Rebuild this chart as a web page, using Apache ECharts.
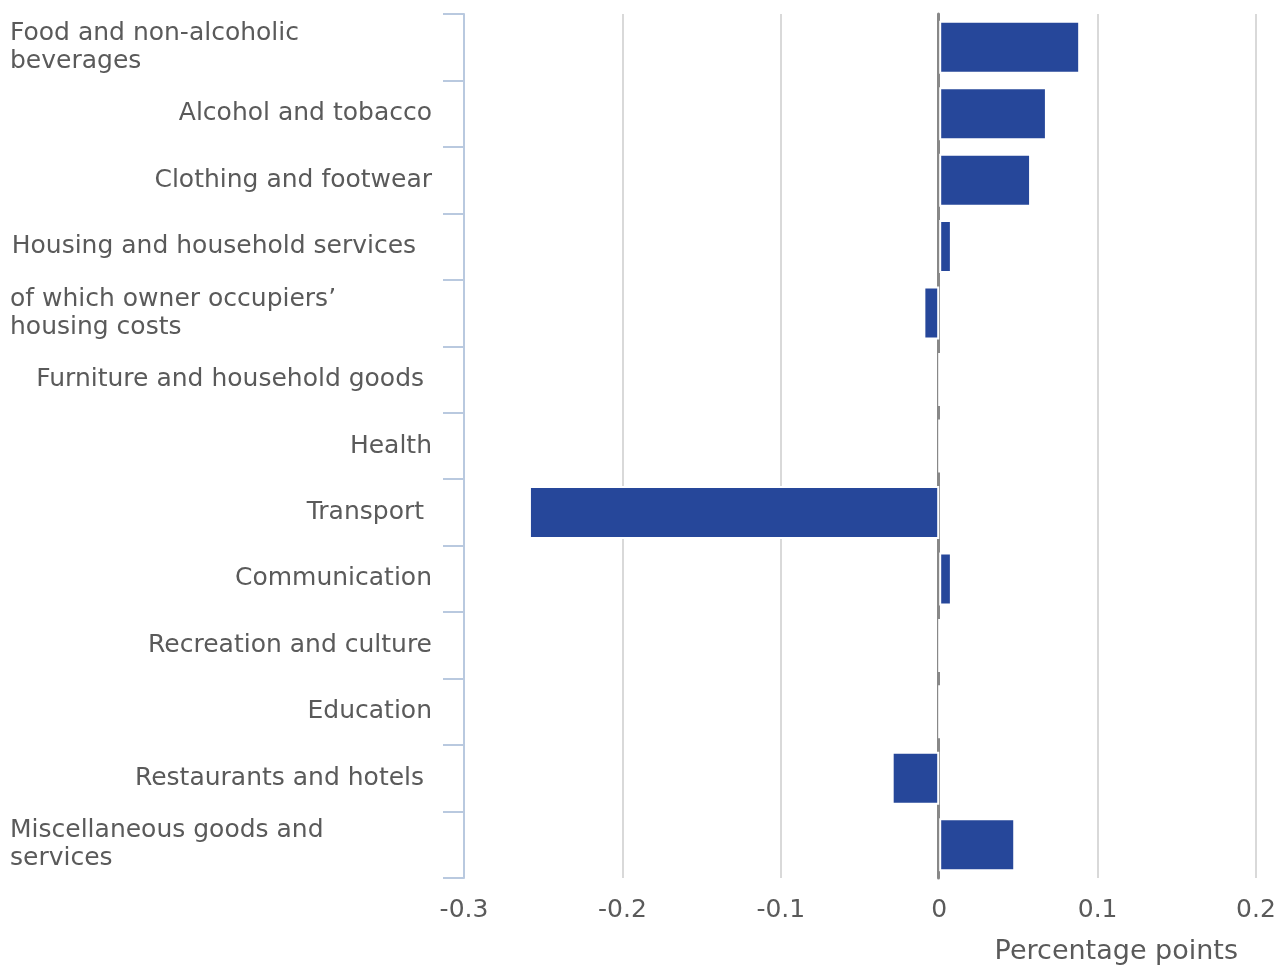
<!DOCTYPE html>
<html>
<head>
<meta charset="utf-8">
<script src="https://cdn.jsdelivr.net/npm/echarts@6/dist/echarts.min.js"></script>
<style>
html,body{margin:0;padding:0;background:#fff;}
#chart{width:1284px;height:966px;}
</style>
</head>
<body>
<div id="chart"></div>
<script>
const categories = [
  'Food and non-alcoholic beverages',
  'Alcohol and tobacco',
  'Clothing and footwear',
  'Housing and household services  ',
  'of which owner occupiers’ housing costs',
  'Furniture and household goods ',
  'Health',
  'Transport ',
  'Communication',
  'Recreation and culture',
  'Education',
  'Restaurants and hotels ',
  'Miscellaneous goods and services'
];
const wrapped = {
  'Food and non-alcoholic beverages': ['Food and non-alcoholic', 'beverages'],
  'of which owner occupiers’ housing costs': ['of which owner occupiers’', 'housing costs'],
  'Miscellaneous goods and services': ['Miscellaneous goods and', 'services']
};
const values = [0.089, 0.068, 0.058, 0.008, -0.01, 0, 0, -0.259, 0.008, 0, 0, -0.03, 0.048];
const xTicks = { min: -0.3, max: 0.2, interval: 0.1 };
const axisTitle = 'Percentage points';

const chart = echarts.init(document.getElementById('chart'), null, { renderer: 'canvas' });
const font = 'DejaVu Sans';
const txt = '#5a5a5a';
const grid = '#d9d9d9';

chart.setOption({
  animation: false,
  backgroundColor: '#fff',
  grid: [
    { left: 464, right: 28, top: 14, bottom: 88, containLabel: false },
    { left: 463, right: 29, top: 14, bottom: 88, containLabel: false }
  ],
  xAxis: [
    {
      type: 'value',
      gridIndex: 0,
      min: xTicks.min, max: xTicks.max, interval: xTicks.interval,
      axisLine: { show: false },
      axisTick: { show: false },
      axisLabel: {
        color: txt, fontFamily: font, fontSize: 25, margin: 20,
        formatter: v => {
          const r = Math.round(v * 10) / 10;
          return r === 0 ? '0' : String(r);
        }
      },
      splitLine: { show: true, lineStyle: { color: grid, width: 2 } },
      name: axisTitle,
      nameLocation: 'end',
      nameGap: -18,
      nameTextStyle: {
        color: txt, fontFamily: font, fontSize: 27,
        align: 'right', verticalAlign: 'top', padding: [60, 0, 0, 0]
      }
    },
    {
      type: 'value',
      gridIndex: 1,
      min: xTicks.min, max: xTicks.max, interval: xTicks.interval,
      show: false
    }
  ],
  yAxis: [
    {
      type: 'category',
      gridIndex: 0,
      data: categories,
      inverse: true,
      position: 'left',
      axisLine: { show: true, onZero: false, lineStyle: { color: '#b9c9df', width: 2 } },
      axisTick: { show: true, length: 21, lineStyle: { color: '#b9c9df', width: 2 } },
      splitLine: { show: false },
      axisLabel: {
        color: txt, fontFamily: font, fontSize: 25, margin: 32, lineHeight: 28,
        formatter: v => {
          if (wrapped[v]) return wrapped[v].map(s => '{l|' + s + '}').join('\n');
          return v;
        },
        rich: {
          l: { width: 422, align: 'left', color: txt, fontFamily: font, fontSize: 25, lineHeight: 28 }
        }
      }
    },
    {
      type: 'category',
      gridIndex: 1,
      data: categories,
      inverse: true,
      axisLine: { show: true, onZero: true, lineStyle: { color: '#888', width: 3 } },
      axisTick: { show: false },
      axisLabel: { show: false },
      splitLine: { show: false }
    }
  ],
  series: [{
    type: 'bar',
    xAxisIndex: 0,
    yAxisIndex: 0,
    data: values,
    barWidth: 53,
    itemStyle: { color: '#26479a', borderColor: '#ffffff', borderWidth: 2 },
    emphasis: { disabled: true }
  }]
});
</script>
</body>
</html>
